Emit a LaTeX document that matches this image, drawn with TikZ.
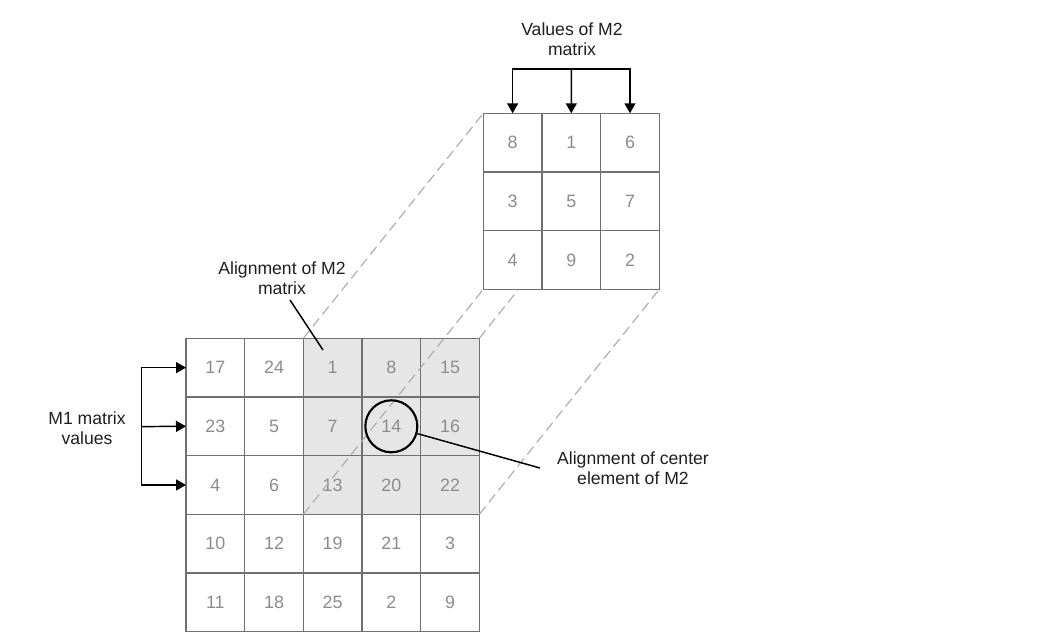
\documentclass[tikz,border=0pt]{standalone}
\usepackage{fontspec}
\setmainfont{Liberation Sans}
\usetikzlibrary{arrows.meta}
\definecolor{gridc}{RGB}{112,112,112}
\definecolor{numc}{RGB}{140,140,140}
\definecolor{shade}{RGB}{230,230,230}
\definecolor{dashc}{RGB}{175,175,175}
\definecolor{labc}{RGB}{30,30,30}
\begin{document}
\begin{tikzpicture}[x=0.75pt,y=-0.75pt,
  cell/.style={minimum size=44pt,inner sep=0pt,outer sep=0pt,
    text=numc,font=\fontsize{13.4}{15}\selectfont},
  gline/.style={draw=gridc,line width=0.95pt,line cap=rect},
  lab/.style={align=center,inner sep=0pt,text=labc,font=\fontsize{13.2}{15}\selectfont},
  guide/.style={draw=dashc,line width=0.9pt,dash pattern=on 7.5pt off 4pt},
  blk/.style={draw=black,line width=1.1pt},
  tipd/.tip={Triangle[length=7.5pt,width=8.25pt]},
  ring/.style={circle,draw=black,line width=1.6pt,minimum size=39pt,inner sep=0pt}]
\useasboundingbox (0,0) rectangle (1060,642);
% M1 matrix cells
\foreach \row [count=\rr] in {{17,24,1,8,15},{23,5,7,14,16},{4,6,13,20,22},{10,12,19,21,3},{11,18,25,2,9}}{
  \foreach \v [count=\cc] in \row {
    \ifnum\rr<4 \ifnum\cc>2 \def\fc{shade}\else\def\fc{white}\fi\else\def\fc{white}\fi
    \node[cell,fill=\fc] (m1-\rr-\cc) at ({186+58.6667*(\cc-0.5)},{338.3+58.6667*(\rr-0.5)}) {\v};
  }
}
% M1 grid lines
\foreach \k in {1,...,5}{
  \draw[gline] (m1-1-\k.north west) -- (m1-5-\k.south west);
  \draw[gline] (m1-\k-1.north west) -- (m1-\k-5.north east);
}
\draw[gline] (m1-1-5.north east) -- (m1-5-5.south east);
\draw[gline] (m1-5-1.south west) -- (m1-5-5.south east);
% M2 matrix positions
\foreach \rr in {1,2,3}{
  \foreach \cc in {1,2,3} {
    \coordinate (m2p-\rr-\cc) at ({483.3+58.6667*(\cc-0.5)},{113.3+58.6667*(\rr-0.5)});
  }
}
% guide lines (end points are the M2 corners)
\coordinate (g1) at (483.3,113.3);
\coordinate (g2) at (483.3,289.3);
\coordinate (g3) at (659.3,113.3);
\coordinate (g4) at (659.3,289.3);
\draw[guide] (m1-1-3.north west) -- (g1);
\draw[guide] (m1-3-3.south west) -- (g2);
\draw[guide] (m1-1-5.north east) -- (g3);
\draw[guide] (m1-3-5.south east) -- (g4);
% M2 cells on top
\foreach \row [count=\rr] in {{8,1,6},{3,5,7},{4,9,2}}{
  \foreach \v [count=\cc] in \row {
    \node[cell,fill=white] (m2-\rr-\cc) at (m2p-\rr-\cc) {\v};
  }
}
\foreach \k in {1,2,3}{
  \draw[gline] (m2-1-\k.north west) -- (m2-3-\k.south west);
  \draw[gline] (m2-\k-1.north west) -- (m2-\k-3.north east);
}
\draw[gline] (m2-1-3.north east) -- (m2-3-3.south east);
\draw[gline] (m2-3-1.south west) -- (m2-3-3.south east);
% circle around 14
\node[ring] (c14) at (m1-2-4) {};
\coordinate (l2end) at (540,468);
\draw[blk] (c14) -- (l2end);
% labels
\node[lab] (lv) at (572,39) {Values of M2\\matrix};
\node[lab] (lm1) at (87,428) {M1 matrix\\values};
\node[lab] (la) at (282,278) {Alignment of M2\\matrix};
\node[lab] (lc) at (633,468) {Alignment of center\\element of M2};
% leader for alignment of M2
\coordinate (a1) at (290,300);
\coordinate (a2) at (323,350);
\draw[blk] (a1) -- (a2);
% left arrows
\coordinate (lvx) at (141.5,426.6);
\draw[blk,{tipd}-{tipd}] (m1-1-1.west) -| (lvx) |- (m1-3-1.west);
\draw[blk,-{tipd}] (lvx) -- (m1-2-1.west);
% top arrows
\coordinate (tv) at (571.3,69);
\draw[blk,{tipd}-{tipd}] (m2-1-1.north) |- (tv) -| (m2-1-3.north);
\draw[blk,-{tipd}] (tv) -- (m2-1-2.north);
\end{tikzpicture}
\end{document}
